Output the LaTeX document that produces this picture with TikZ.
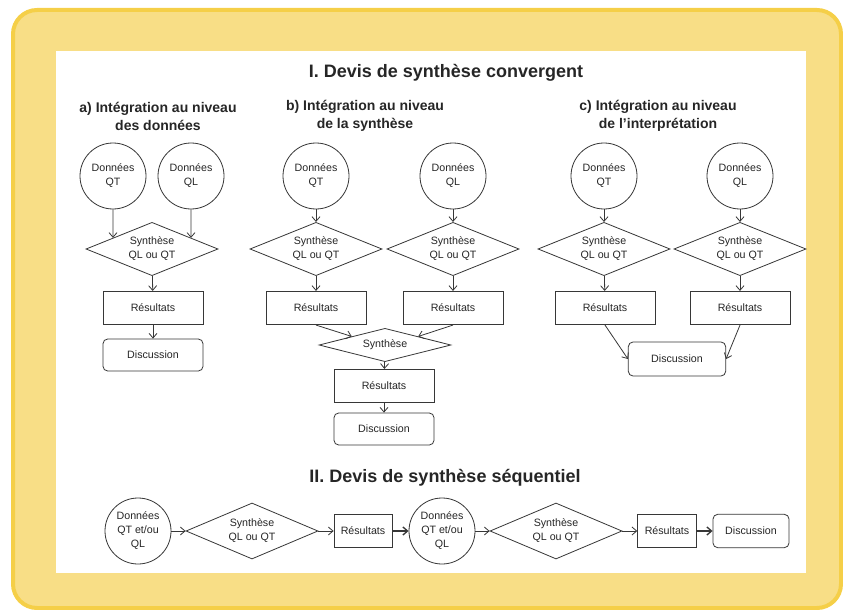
\documentclass[tikz,border=0pt]{standalone}
\usepackage{fontspec}
\setmainfont{Liberation Sans}
\usetikzlibrary{shapes.geometric,arrows.meta}
\definecolor{cadre}{RGB}{245,207,72}
\definecolor{fond}{RGB}{248,222,134}
\definecolor{trait}{RGB}{55,55,55}

\begin{document}
\begin{tikzpicture}[x=0.75pt,y=-0.75pt,line width=0.6pt,
    every node/.style={font=\fontsize{8}{10.5}\selectfont,text=black!85,align=center},
    donnees/.style={circle,draw=trait,minimum size=49.5pt,inner sep=0pt},
    synthese/.style={diamond,draw=trait,minimum width=99pt,minimum height=40pt,inner sep=0pt,aspect=2.5},
    resultat/.style={rectangle,draw=trait,minimum width=75pt,minimum height=25pt,inner sep=1pt},
    discussion/.style={rectangle,rounded corners=3.5pt,draw=trait,minimum width=75pt,minimum height=24pt,inner sep=1pt},
    titre/.style={font=\bfseries\fontsize{13.5}{16}\selectfont},
    soustitre/.style={font=\bfseries\fontsize{10.5}{13.5}\selectfont},
    fleche/.style={-{Straight Barb[length=3.5pt,width=6pt]},draw=trait}]
    % fond
    \useasboundingbox (0,0) rectangle (843,610);
    \draw[cadre,fill=fond,line width=3pt,rounded corners=18pt] (13,10) rectangle (841,608);
    \fill[white] (56,51) rectangle (806,573);

    % I. convergent
    \node[titre] (titreI) at (446,73) {I. Devis de synthèse convergent};
    \node[soustitre] (sta) at (158,116) {a) Intégration au niveau\\des données};
    \node[soustitre] (stb) at (365,116) {b) Intégration au niveau\\de la synthèse};
    \node[soustitre] (stc) at (658,116) {c) Intégration au niveau\\de l'interprétation};

    % a)
    \node[donnees] (qta) at (113,176) {Données\\QT};
    \node[donnees] (qla) at (191,176) {Données\\QL};
    \node[synthese] (syna) at (152,249) {Synthèse\\QL ou QT};
    \node[resultat] (resa) at (153,308) {Résultats};
    \node[discussion] (disca) at (153,355) {Discussion};
    \draw[fleche] (qta) -- (intersection of qta.center--qta.south and syna.west--syna.north);
    \draw[fleche] (qla) -- (intersection of qla.center--qla.south and syna.north--syna.east);
    \draw[fleche] (syna) -- (resa);
    \draw[fleche] (resa) -- (disca);

    % b)
    \node[donnees] (qtb) at (316,176) {Données\\QT};
    \node[donnees] (qlb) at (453,176) {Données\\QL};
    \node[synthese] (synb1) at (316,249) {Synthèse\\QL ou QT};
    \node[synthese] (synb2) at (453,249) {Synthèse\\QL ou QT};
    \node[resultat] (resb1) at (316,308) {Résultats};
    \node[resultat] (resb2) at (453,308) {Résultats};
    \node[synthese,minimum height=25pt] (synb) at (385,345) {Synthèse};
    \node[resultat] (resb) at (384,386) {Résultats};
    \node[discussion] (discb) at (384,429) {Discussion};
    \draw[fleche] (qtb) -- (synb1);
    \draw[fleche] (qlb) -- (synb2);
    \draw[fleche] (synb1) -- (resb1);
    \draw[fleche] (synb2) -- (resb2);
    \draw[fleche] (resb1.south) -- (synb.north west);
    \draw[fleche] (resb2.south) -- (synb.north east);
    \draw[fleche] (synb) -- (resb);
    \draw[fleche] (resb) -- (discb);

    % c)
    \node[donnees] (qtc) at (604,176) {Données\\QT};
    \node[donnees] (qlc) at (740,176) {Données\\QL};
    \node[synthese] (sync1) at (604,249) {Synthèse\\QL ou QT};
    \node[synthese] (sync2) at (740,249) {Synthèse\\QL ou QT};
    \node[resultat] (resc1) at (605,308) {Résultats};
    \node[resultat] (resc2) at (740,308) {Résultats};
    \node[discussion,minimum width=73pt,minimum height=25.5pt] (discc) at (677,359) {Discussion};
    \draw[fleche] (qtc) -- (sync1);
    \draw[fleche] (qlc) -- (sync2);
    \draw[fleche] (sync1) -- (resc1);
    \draw[fleche] (sync2) -- (resc2);
    \draw[fleche] (resc1.south) -- (discc.west);
    \draw[fleche] (resc2.south) -- (discc.east);

    % II. sequentiel
    \node[titre] (titreII) at (445,478) {II. Devis de synthèse séquentiel};
    \node[donnees] (d1) at (138,531) {Données\\QT et/ou\\QL};
    \node[synthese,minimum height=42pt] (s1) at (252,531) {Synthèse\\QL ou QT};
    \node[resultat,minimum width=43.5pt] (r1) at (363,531) {Résultats};
    \node[donnees] (d2) at (442,531) {Données\\QT et/ou\\QL};
    \node[synthese,minimum height=42pt] (s2) at (556,531) {Synthèse\\QL ou QT};
    \node[resultat,minimum width=44pt] (r2) at (667,531) {Résultats};
    \node[discussion,minimum width=57pt,minimum height=25pt] (disc) at (751,531) {Discussion};
    \draw[fleche] (d1) -- (s1);
    \draw[fleche] (s1) -- (r1);
    \draw[fleche,line width=1pt] (r1) -- (d2);
    \draw[fleche] (d2) -- (s2);
    \draw[fleche] (s2) -- (r2);
    \draw[fleche,line width=1pt] (r2) -- (disc);
  \end{tikzpicture}
\end{document}
